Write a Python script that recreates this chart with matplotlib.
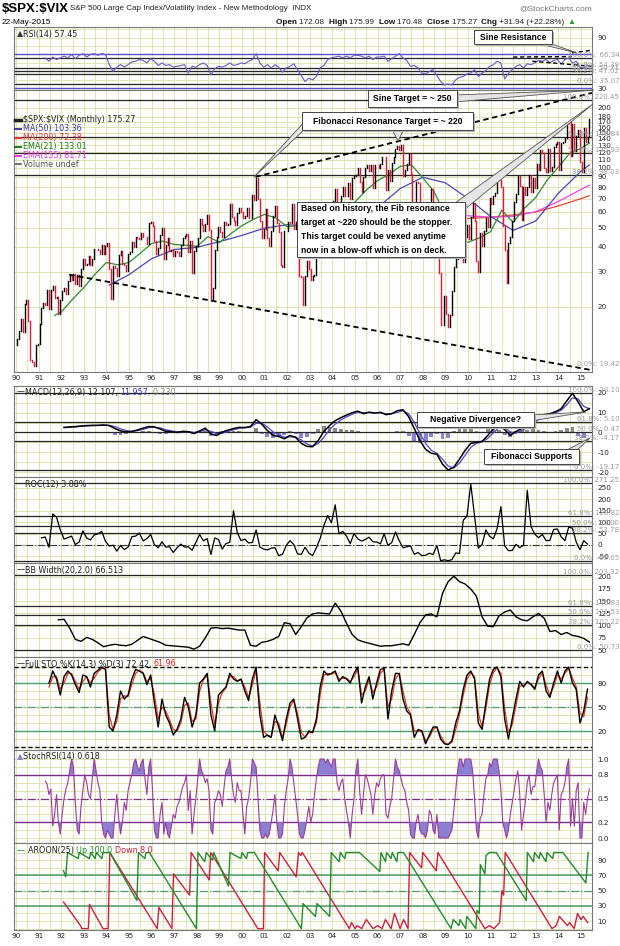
import matplotlib
matplotlib.use("Agg")
import matplotlib.pyplot as plt
from matplotlib.patches import Polygon, Rectangle
from matplotlib.ticker import FixedLocator, FixedFormatter, NullLocator
import numpy as np

# ---------------- data ----------------
# monthly $SPX:$VIX closes, Jan 1990 .. May 2015
open_first = 12.8
closes = [
    13.7, 15.1, 17.4, 15.0, 20.6, 21.7, 17.0, 10.8, 10.5, 10.1, 12.9, 13.0,
    16.4, 19.8, 20.8, 20.3, 24.4, 19.5, 24.3, 25.5, 22.2, 22.4, 18.3, 21.6,
    24.1, 25.0, 23.1, 26.8, 28.6, 27.2, 29.2, 25.9, 28.8, 25.4, 30.8, 34.9,
    32.5, 32.8, 36.2, 32.6, 34.6, 39.2, 39.0, 38.7, 36.7, 40.7, 37.0, 40.5,
    41.9, 31.1, 21.8, 32.2, 31.5, 28.6, 36.6, 38.0, 33.0, 32.6, 30.3, 36.7,
    37.6, 42.3, 40.1, 44.8, 44.4, 43.6, 46.8, 45.0, 44.9, 41.6, 52.6, 53.6,
    50.9, 42.7, 36.9, 39.6, 46.1, 49.7, 34.6, 40.8, 44.3, 38.1, 38.8, 36.1,
    38.3, 37.7, 36.0, 41.1, 44.6, 45.4, 46.5, 37.5, 43.0, 29.5, 38.2, 40.4,
    44.5, 55.2, 51.3, 48.3, 52.0, 58.2, 48.7, 21.6, 24.9, 38.6, 44.8, 50.2,
    47.4, 45.0, 53.6, 51.3, 52.1, 65.4, 56.6, 53.9, 51.3, 59.3, 63.1, 59.7,
    56.0, 56.9, 62.5, 55.8, 55.7, 72.8, 69.1, 89.3, 69.8, 53.7, 44.1, 49.1,
    62.1, 44.3, 40.6, 48.0, 57.1, 64.4, 52.7, 47.3, 32.6, 31.6, 47.9, 48.2,
    53.6, 52.7, 65.9, 49.2, 53.6, 39.0, 28.5, 28.1, 20.5, 28.5, 34.0, 30.8,
    27.4, 28.4, 29.0, 43.3, 49.4, 50.0, 50.8, 52.0, 43.9, 65.3, 64.9, 60.8,
    68.1, 78.4, 67.4, 64.4, 72.3, 79.8, 72.0, 72.2, 83.8, 69.3, 88.9, 91.1,
    92.3, 99.5, 84.4, 75.6, 89.6, 99.3, 102.8, 96.8, 103.3, 78.9, 103.2, 103.1,
    99.2, 104.1, 113.6, 113.0, 77.4, 96.9, 85.7, 106.0, 113.2, 124.1, 128.5, 122.2,
    130.7, 91.4, 97.3, 104.4, 117.8, 92.8, 61.9, 63.0, 84.8, 83.7, 64.7, 65.2,
    52.6, 50.2, 51.7, 66.6, 77.8, 53.6, 55.3, 62.0, 29.6, 16.2, 16.2, 22.6,
    18.4, 15.8, 18.1, 23.9, 31.8, 34.8, 38.1, 39.3, 41.3, 33.7, 44.7, 51.4,
    43.7, 56.6, 66.4, 53.7, 33.9, 29.9, 46.9, 40.2, 48.1, 55.8, 50.3, 70.7,
    65.9, 72.1, 74.9, 92.2, 86.8, 80.1, 51.1, 38.6, 26.3, 41.9, 44.9, 53.8,
    67.6, 74.2, 90.8, 81.3, 54.4, 79.6, 73.0, 80.4, 91.8, 75.9, 89.1, 79.2,
    104.8, 97.7, 123.5, 118.4, 100.1, 95.0, 124.9, 96.1, 101.3, 127.3, 131.8, 134.9,
    96.9, 132.8, 134.7, 140.6, 168.8, 169.0, 114.3, 166.9, 121.0, 144.1, 155.5, 107.2,
    95.0, 158.3, 135.2, 143.4, 175.27,
]

# overlays on the price panel (year, value)
ma50_t = [1994.12, 1995, 1996, 1997, 1998, 1999, 2000, 2001, 2002, 2003, 2004, 2005,
          2006, 2007, 2008, 2009, 2010, 2011, 2012, 2013, 2014, 2015, 2015.37]
ma50_v = [25.7, 29.0, 34.9, 38.8, 39.8, 42.5, 45.7, 49.7, 51.7, 50.8, 49.5, 52.0,
          63.0, 78.6, 89.6, 84.0, 70.0, 57.0, 48.4, 54.0, 74.4, 96.0, 103.36]
ma200_t = [2006.62, 2007, 2008, 2009, 2010, 2011, 2012, 2013, 2014, 2015, 2015.37]
ma200_v = [47.5, 49.6, 53.9, 55.4, 55.6, 56.4, 57.9, 59.9, 64.3, 69.9, 72.38]
ema155_t = [2002.87, 2004, 2005, 2006, 2007, 2008, 2009, 2010, 2011, 2012, 2013, 2014, 2015, 2015.37]
ema155_v = [39.3, 40.4, 45.2, 52.1, 60.0, 64.0, 61.5, 57.4, 56.4, 57.0, 60.1, 67.7, 77.7, 81.71]
ema21_v = [18.1, 18.8, 21.8, 25.0, 29.2, 33.4, 32.5, 33.4, 37.2, 41.6, 42.8, 41.1, 40.8,
           40.2, 45.1, 42.1, 46.6, 51.2, 55.0, 58.3, 55.9, 50.5, 51.3, 41.3, 39.8, 47.0,
           57.8, 67.3, 77.2, 86.2, 92.5, 101.6, 103.4, 89.1, 75.9, 57.6, 42.9, 42.2, 44.4,
           47.7, 61.2, 53.2, 62.6, 70.9, 86.5, 100.8, 118.1, 125.3, 133.01]
ema21_t = [1991.7] + [1992 + 0.5 * k for k in range(47)] + [2015.37]

# RSI(14), every 2nd month from Apr 1991
rsi_m0 = 15
rsi = [66, 62, 67, 64, 66,
       68, 66, 70, 65, 69, 71,  67, 70, 71, 69, 71, 70,  58, 50, 55, 58, 55, 58,
       61, 62, 64, 63, 60, 65,  62, 57, 60, 57, 58, 55,  56, 57, 58, 48, 56, 55,
       58, 60, 57, 46, 53, 56,  55, 57, 60, 57, 58, 60,  59, 62, 64, 71, 60, 55,
       58, 54, 58, 55, 49, 54,  56, 59, 52, 45, 38, 42,  40, 44, 54, 57, 64, 66,
       67, 68, 66, 68, 66, 69,  69, 68, 66, 68, 64, 67,  67, 68, 62, 65, 68, 71,
       66, 63, 56, 57, 54, 48,  47, 50, 52, 45, 38, 34,  35, 34, 40, 43, 44, 47,
       48, 52, 44, 48, 51, 56,  58, 62, 60, 41, 48, 52,  56, 58, 54, 59, 58, 60,
       63, 62, 64, 60, 63, 64,  59, 64, 66, 60, 62, 55,  54, 57.45]

# MACD(12,26,9), every 3rd month from Feb 1992
macd_m0 = 25
macd = [2.6, 2.8, 3.0, 3.3, 3.5, 3.6, 3.6, 3.8, 3.5, 2.0, 0.8, 0.3, 0.5, 1.3, 2.2, 3.0,
        2.8, 1.8, 0.6, 0.4, 0.0, 0.6, 0.4, -0.5, 0.8, 2.2, -0.8, -1.5, 0.2, 1.2, 2.0, 2.6,
        2.5, 3.0, 6.5, 4.2, 1.0, -1.5, -2.0, -3.2, -1.5, -2.5, -5.5, -7.0, -7.2, -4.0, 0.5, 3.5,
        6.0, 7.5, 8.8, 10.0, 10.8, 9.5, 10.3, 9.8, 10.2, 9.0, 9.5, 11.0, 11.5, 8.0, 2.0, -4.0,
        -8.5, -10.5, -11.0, -16.0, -19.0, -17.5, -13.5, -9.0, -5.5, -5.0, -4.5, -1.5,
        1.8, 3.5, 1.5, -1.5, 0.5, 2.0, 3.5, 6.0, 7.5, 9.0, 9.5, 10.5, 12.0, 16.0, 19.8, 15.5,
        10.5, 12.107]
macd_signal = [2.4, 2.6, 2.8, 3.1, 3.3, 3.5, 3.6, 3.7, 3.6, 3.0, 1.8, 1.0, 0.6, 0.9, 1.6, 2.4,
               2.7, 2.3, 1.4, 0.8, 0.4, 0.4, 0.4, 0.0, 0.3, 1.4, 0.6, -0.6, -0.4, 0.5, 1.4, 2.1,
               2.4, 2.7, 4.6, 4.8, 2.8, 0.3, -1.2, -2.4, -2.2, -2.3, -3.8, -5.8, -6.8, -5.6, -2.4, 1.4,
               4.2, 6.4, 7.9, 9.2, 10.2, 10.0, 10.0, 9.9, 10.0, 9.5, 9.4, 10.2, 11.0, 9.5, 5.0, -0.5,
               -5.5, -9.0, -10.5, -13.5, -17.0, -18.0, -15.5, -11.5, -7.5, -5.5, -4.8, -3.0,
               -0.2, 2.4, 2.4, 0.3, -0.3, 1.0, 2.6, 4.6, 6.5, 8.2, 9.2, 10.0, 11.2, 14.0, 17.5, 17.0,
               13.2, 11.957]
macd_hist = [0.3, 0.3, 0.3, 0.3, 0.3, 0.2, 0.1, 0.2, -0.2, -1.2, -1.2, -0.8, -0.1, 0.5, 0.7, 0.7,
             0.1, -0.6, -0.9, -0.5, -0.5, 0.3, 0.1, -0.6, 0.6, 1.0, -1.6, -1.1, 0.7, 0.8, 0.7, 0.6,
             0.2, 0.4, 2.2, -0.8, -2.2, -3.0, -1.8, -1.5, 0.7, -0.8, -2.8, -2.2, -0.6, 2.0, 3.2, 2.6,
             2.2, 1.6, 1.3, 1.2, 1.0, -0.4, 0.5, 0.2, 0.4, -0.4, 0.3, 1.0, 0.7, -2.0, -4.5, -5.5,
             -4.5, -2.5, -1.0, -3.5, -3.0, 0.8, 2.5, 3.0, 2.5, 0.8, 0.5, 1.8,
             2.4, 1.3, -1.2, -2.2, 1.0, 1.2, 1.1, 1.6, 1.3, 1.0, 0.5, 0.8, 1.2, 2.4, 2.8, -2.0,
             -3.0, 0.23]

# ROC(12) %, every 2nd month from Feb 1991
roc_m0 = 13
roc = [31, 35, -10, 136, 122, 66,  26, 32, 39, 2, 13, 62,  31, 22, 44, 49, 60, 16,
       -5, -1, -27, -2, -20, -9,  36, 39, 52, 18, 28, 46,  1, -12, 14, -9, -8, -33,
       -12, 4, -9, -8, -23, 12,  46, 18, 28, -42, 31, 24,  -18, 6, 12, 150, 54, 19,
       26, 9, 11, 66, -9, -18,  -22, -14, -12, -47, -41, -2,  19, 2, -39, -41, -10, -36,
       -46, -12, 28, 85, 129, 97,  176, 49, 60, 39, 6, 50,  27, 17, 24, 34, 14, 13,
       5, 49, -2, 10, 57, 19,  -12, -8, -4, -41, -33, -47,  -45, -36, -42, -2, -69, -65,
       -69, -64, -35, -37, 108, 127,  268, 125, -14, 2, 66, 38,  27, 72, 168, -4, -25, -24,
       3, -12, -1, 240, 81, 47,  32, 46, 19, 20, 68, 70,  36, 19, 78, 74, 13, -21,  19, 3.88]

# BB Width(20,2), every 3rd month from Nov 1991
bb_m0 = 22
bbw = [112, 113, 95, 72, 68, 76, 72, 65, 57, 60, 62, 60, 59, 62, 70, 78, 74, 70, 66, 60, 59,
       58, 57, 56, 52, 58, 75, 95, 96, 94, 95, 93, 91, 91, 60, 58, 66, 68, 72, 78, 106,
       104, 82, 98, 116, 124, 126, 125, 124, 146, 130, 105, 82, 71, 67, 64, 61, 58, 59, 59, 61,
       63, 60, 82, 106, 122, 124, 118, 166, 190, 201, 190, 185, 175, 160, 118, 99,
       98, 120, 128, 132, 118, 112, 110, 118, 125, 115, 88, 90, 82, 86, 80, 78, 74, 66.513]

# Full STO %K(14,3) and %D(3), every 2nd month from Jun 1991
sto_m0 = 17
sto_k = [80, 95, 85, 65,
         88, 95, 90, 78, 68, 90,  88, 75, 92, 96, 100, 97,  25, 20, 40, 70, 60, 65,
         85, 97, 95, 92, 78, 90,  55, 25, 60, 40, 30, 15,  22, 35, 62, 50, 25, 40,
         80, 85, 92, 40, 20, 65,  70, 75, 92, 85, 82, 85,  70, 58, 85, 100, 40, 12,
         15, 12, 40, 25, 8, 35,  55, 60, 35, 10, 12, 20,  18, 35, 75, 95, 90, 92,
         95, 82, 88, 85, 80, 92,  100, 55, 75, 88, 60, 80,  97, 98, 35, 70, 92, 92,
         60, 45, 40, 12, 22, 20,  4, 15, 25, 25, 10, 4,  3, 8, 30, 45, 72, 90,
         95, 85, 30, 22, 55, 85,  97, 100, 88, 35, 10, 35,  60, 82, 75, 82, 78, 72,
         90, 95, 70, 62, 80, 95,  80, 95, 100, 80, 72, 30,  45, 72.42]
sto_d = [75, 88, 88, 72,
         80, 92, 92, 82, 72, 82,  88, 80, 86, 94, 98, 98,  40, 22, 32, 60, 64, 63,
         78, 92, 96, 93, 82, 86,  65, 35, 50, 45, 34, 22,  20, 30, 52, 55, 32, 35,
         70, 84, 90, 55, 28, 55,  68, 74, 88, 88, 83, 84,  75, 62, 78, 95, 55, 20,
         14, 13, 32, 30, 12, 28,  50, 58, 42, 18, 12, 18,  18, 30, 65, 90, 92, 91,
         93, 85, 86, 86, 82, 88,  97, 65, 70, 85, 68, 75,  92, 97, 50, 60, 85, 92,
         70, 50, 42, 20, 20, 20,  8, 12, 22, 25, 14, 6,  3, 6, 22, 40, 65, 85,
         93, 88, 42, 25, 48, 78,  93, 99, 92, 48, 18, 28,  52, 76, 77, 80, 79, 74,
         85, 93, 77, 65, 75, 90,  85, 92, 98, 86, 75, 42,  38, 61.96]

# StochRSI(14), monthly from Apr 1991
srsi_m0 = 15
srsi = [.72, .68, .55, .62, .15, .3, .55, .2, .05,
        .3, .5, .62, .7, .85, 1.0, .9, .45, .1, .05, .4, .6,
        .8, .7, .55, .5, .75, 1.0, .85, .7, .6, .2, .05, 0,
        .1, .05, 0, 0, .3, .55, .25, .05, .2, .45, .35, .6,
        .7, .8, .95, 1.0, .9, .85, .95, 1.0, .75, .55, .9, 1.0,
        .6, .1, 0, 0, .3, .45, .05, .2, .05, 0, .15, .3,
        .25, .4, .45, .55, .65, .7, .8, .35, .6, .05, .3, .5,
        .75, 1.0, .85, .8, .7, .75, .6, .1, .05, .45, .5, .6,
        .55, .4, .65, .85, .9, 1.0, .75, .55, .45, .7, .6, .6,
        .3, .05, .4, .5, .7, 1.0, .95, .9, .5, .1, 0, 0,
        .05, 0, .05, .2, .35, .55, .2, 0, 0, .05, .4, .6,
        .75, 1.0, .9, .7, .5, .3, .05, 0, 0, .1, .25, .4,
        .2, .3, .55, .75, .9, 1.0, 1.0, 1.0, .95, 1.0, .95, .9,
        1.0, 1.0, .7, .6, .7, .75, .5, .35, .2, 0, .3, .5,
        .85, 1.0, .6, .3, .55, .8, .75, .65, .55, .3, .55, .7,
        .65, .75, .8, .8, .3, .25, .4, .5, .75, 1.0, .9, .85,
        .75, .65, .6, .45, .35, .05, 0, 0, .2, .3, .1, .05,
        .05, 0, .1, .35, .3, .1, .05, .3, 0, 0, 0, 0,
        0, 0, .05, .1, .35, .6, .85, 1.0, 1.0, .9, 1.0, 1.0,
        1.0, 1.0, .85, .5, .1, 0, .25, .3, .55, .75, .8, .95,
        .9, 1.0, 1.0, 1.0, .85, .6, .2, .1, 0, .1, .3, .45,
        .6, .75, .85, .55, .1, .3, .45, .7, .8, .55, .65, .65,
        .85, 1.0, .9, .85, .55, .2, .45, .35, .55, .7, .75, .8,
        .1, .55, .6, .7, .9, 1.0, .15, .5, .15, .6, .7, 0,
        0, .45, .3, .5, .618]

# AROON(25) turning points (year, value)
aroon_up_t = [1992.1, 1992.2, 1992.28, 1992.75, 1992.8, 1993.25, 1993.3, 1993.5, 1993.55, 1993.8,
              1993.85, 1994.15, 1995.35, 1995.42, 1995.7, 1995.75, 1995.9, 1997.98, 1998.05, 1998.35,
              1998.42, 1998.7, 1998.75, 1999.4, 1999.47, 1999.95, 2000.0, 2000.2, 2000.25, 2000.55,
              2002.63, 2002.7, 2003.25, 2003.32, 2003.88, 2003.95, 2004.3, 2004.35, 2004.55, 2004.6,
              2005.2, 2006.1, 2006.15, 2006.35, 2006.4, 2006.6, 2006.65, 2006.85, 2006.9, 2007.15,
              2009.25, 2009.35, 2009.6, 2009.65, 2009.9, 2009.95, 2010.35, 2010.4, 2010.5, 2010.55,
              2010.75, 2010.8, 2010.95, 2011.25, 2012.58, 2012.63, 2012.9, 2012.95, 2013.15, 2013.2,
              2013.45, 2013.5, 2013.75, 2013.8, 2014.2, 2015.22, 2015.32]
aroon_up_v = [76, 68, 100, 92, 100, 92, 100, 92, 100, 92,
              100, 100, 37, 100, 92, 100, 100, 0, 100, 88,
              100, 90, 100, 56, 100, 92, 100, 92, 100, 100,
              0, 33, 16, 33, 16, 100, 88, 100, 92, 100,
              100, 75, 100, 88, 100, 92, 100, 88, 100, 100,
              0, 12, 4, 12, 0, 16, 0, 24, 20, 84,
              72, 96, 100, 100, 37, 100, 88, 100, 92, 100,
              88, 100, 92, 100, 100, 60, 100]
aroon_dn_t = [1992.1, 1992.85, 1992.92, 1993.2, 1993.25, 1993.85, 1994.08, 1994.15, 1996.25, 1996.32,
              1996.9, 1996.97, 1997.68, 1997.75, 1998.55, 1998.62, 2000.7, 2000.95, 2001.0, 2001.6,
              2001.67, 2002.4, 2002.5, 2002.6, 2002.67, 2004.75, 2004.85, 2005.0, 2005.1, 2005.3,
              2005.5, 2005.8, 2006.0, 2006.2, 2006.35, 2006.6, 2006.75, 2007.0, 2007.15, 2007.35,
              2007.42, 2007.95, 2008.0, 2008.6, 2008.67, 2010.75, 2010.95, 2011.15, 2011.4, 2011.5,
              2011.58, 2011.65, 2013.72, 2013.9, 2014.05, 2014.4, 2014.5, 2014.7, 2014.85, 2015.0,
              2015.1, 2015.3]
aroon_dn_v = [35, 4, 0, 0, 32, 0, 0, 100, 0, 28,
              0, 72, 44, 100, 64, 100, 0, 0, 100, 76,
              100, 68, 100, 96, 100, 0, 8, 0, 4, 0,
              12, 0, 4, 0, 12, 0, 20, 0, 12, 0,
              100, 80, 100, 76, 100, 0, 4, 0, 8, 50,
              44, 100, 0, 4, 16, 4, 8, 0, 20, 12,
              16, 8]

# Fibonacci levels drawn on each panel
rsi_fib = [66.34, 54.39, 50.71, 47.02, 35.07]
rsi_fib_lab = ["100.0%: 66.34", "61.8%: 54.39", "50.0%: 50.71", "38.2%: 47.02", "0.0%: 35.07"]
main_fib = [219.0, 142.0, 118.0, 92.0]
main_fib_lab = ["100.0%: 220.45", "61.8%: 148.84", "50.0%: 125.93", "38.2%: 98.03"]
macd_fib = [20.10, 5.10, 0.47, -4.17, -19.17]
macd_fib_lab = ["100.0%: 20.10", "61.8%: 5.10", "50.0%: 0.47", "38.2%: -4.17", "0.0%: -19.17"]
roc_fib = [271.25, 128.82, 85.30, 53.78, -69.65]
roc_fib_lab = ["100.0%: 271.25", "61.8%: 128.82", "50.0%: 85.30", "38.2%: 53.78", "0.0%: -69.65"]
bb_fib = [203.32, 140.83, 121.53, 102.22, 50.73]
bb_fib_lab = ["100.0%: 203.32", "61.8%: 140.83", "50.0%: 121.53", "38.2%: 102.22", "0.0%: 50.73"]

main_ticks = [20, 30, 40, 50, 60, 70, 80, 90, 100, 110, 120, 130, 140, 150, 160, 170, 180, 200]

# ---------------- layout ----------------
W, H = 620, 946
X0, X1 = 14, 592
XMIN, XMAX = 1989.91, 2015.49
GRID = '#dde4b0'
FIBC = '#9c9c9c'

fig = plt.figure(figsize=(W / 100, H / 100), dpi=100)
fig.patch.set_facecolor('white')
R = fig.canvas.get_renderer()


def fx(px):
    return px / W


def fy(py):
    return 1 - py / H


def monthly(m0, n, step):
    return np.array([1990 + (m0 + step * i + 0.5) / 12 for i in range(n)])


def panel(top, bot):
    return fig.add_axes([fx(X0), fy(bot), fx(X1) - fx(X0), (bot - top) / H])


def style(ax, ylim, ticks, labels, hgrid, log=False, xlab=False):
    if log:
        ax.set_yscale('log')
    ax.set_xlim(XMIN, XMAX)
    ax.set_ylim(*ylim)
    for g in np.arange(1990, 2015.6, 0.5):
        ax.axvline(g, color=GRID, lw=0.7, zorder=0)
    for g in hgrid:
        ax.axhline(g, color=GRID, lw=0.7, zorder=0)
    ax.yaxis.tick_right()
    ax.yaxis.set_major_locator(FixedLocator(ticks))
    ax.yaxis.set_major_formatter(FixedFormatter(labels))
    ax.yaxis.set_minor_locator(NullLocator())
    ax.tick_params(axis='y', length=0, pad=4, labelsize=5.2, colors='#222222')
    ax.set_xticks(range(1990, 2016))
    ax.set_xticklabels(['%02d' % (y % 100) for y in range(1990, 2016)] if xlab else [])
    ax.xaxis.set_minor_locator(NullLocator())
    ax.tick_params(axis='x', length=0, pad=2.5, labelsize=5.2, colors='#222222')
    for s in ax.spines.values():
        s.set_color('#777777')
        s.set_linewidth(0.8)


def fib(ax, vals, labs):
    tr = ax.get_yaxis_transform()
    for v, lab in zip(vals, labs):
        ax.axhline(v, color='#262626', lw=0.9, zorder=2)
        ax.text(1.047, v, lab, transform=tr, ha='right', va='bottom', fontsize=5.0,
                color=FIBC, clip_on=False, zorder=6)


def ctext(x, y, parts, size=5.8, family='DejaVu Sans'):
    cx = x
    for s, col, wt in parts:
        t = fig.text(fx(cx), fy(y), s, color=col, fontsize=size, fontweight=wt,
                     family=family, ha='left', va='center')
        cx += t.get_window_extent(renderer=R).width


def callout(box, lines, pointers, size=6.2, center=True):
    x0, y0, x1, y1 = box
    for a, b, tip in pointers:
        fig.add_artist(Polygon([(fx(a[0]), fy(a[1])), (fx(b[0]), fy(b[1])), (fx(tip[0]), fy(tip[1]))],
                               closed=True, transform=fig.transFigure, facecolor='#e4e4e4',
                               edgecolor='#555555', lw=0.6, zorder=6))
    fig.add_artist(Rectangle((fx(x0 + 2), fy(y1 + 2)), fx(x1) - fx(x0), (y1 - y0) / H,
                             transform=fig.transFigure, facecolor='#b5b5b5', edgecolor='none', zorder=7))
    fig.add_artist(Rectangle((fx(x0), fy(y1)), fx(x1) - fx(x0), (y1 - y0) / H,
                             transform=fig.transFigure, facecolor='white', edgecolor='#444444',
                             lw=0.7, zorder=8))
    step = (y1 - y0) / len(lines)
    for k, line in enumerate(lines):
        yy = y0 + step * (k + 0.5)
        if center:
            fig.text(fx((x0 + x1) / 2), fy(yy), line, ha='center', va='center', fontsize=size,
                     fontweight='bold', family='Liberation Sans', zorder=9)
        else:
            fig.text(fx(x0 + 4), fy(yy), line, ha='left', va='center', fontsize=size,
                     fontweight='bold', family='Liberation Sans', zorder=9)


DASH = (0, (3, 2))

# ---------------- RSI ----------------
ax = panel(27, 90)
style(ax, (28, 102.5), [90, 30], ['90', '30'], range(30, 101, 10))
ax.axhline(70, color='#5a4fc8', lw=1.0, zorder=2)
ax.axhline(30, color='#5a4fc8', lw=1.0, zorder=2)
ax.axhline(50, color='#333333', lw=0.8, ls='-.', zorder=2)
fib(ax, rsi_fib, rsi_fib_lab)
ax.plot(monthly(rsi_m0, len(rsi), 2), rsi, color='#6a5acd', lw=0.8, zorder=4)
ax.plot([2012.0, 2014.6], [67, 67.5], color='black', ls=DASH, lw=1.0, zorder=5)
ax.plot([2012.85, 2015.49], [62, 56], color='black', ls=DASH, lw=1.0, zorder=5)
ax.plot([2014.6, 2015.49], [72, 75], color='black', ls=DASH, lw=1.0, zorder=5)
ctext(17, 34, [("\u25b2", '#333333', 'normal'), ("RSI(14) 57.45", '#222222', 'normal')])

# ---------------- price ----------------
ax = panel(90, 372)
style(ax, (9.4, 246), main_ticks, [str(t) for t in main_ticks], main_ticks, log=True, xlab=True)
fib(ax, main_fib, main_fib_lab)
ax.text(1.047, 10.0, "0.0%: 19.42", transform=ax.get_yaxis_transform(), ha='right', va='bottom',
        fontsize=5.0, color=FIBC, clip_on=False, zorder=6)
ax.plot(ma200_t, ma200_v, color='#ee4433', lw=0.9, zorder=3)
ax.plot(ema155_t, ema155_v, color='#ee44ee', lw=0.9, zorder=3)
ax.plot(ma50_t, ma50_v, color='#4b46b4', lw=0.9, zorder=3)
ax.plot(ema21_t, ema21_v, color='#2e8b2e', lw=0.9, zorder=3)
c = np.array(closes)
o = np.array([open_first] + closes[:-1])
mx = monthly(0, len(closes), 1)
up = c >= o
lo = np.minimum(o, c)
hi = np.maximum(o, c)
for mask, col in ((up, 'black'), (~up, '#e3173e')):
    lc = ax.vlines(mx[mask], lo[mask], hi[mask], color=col, lw=1.0, zorder=4)
    lc.set_capstyle('projecting')
ax.plot([2000.6, 2015.49], [90, 238], color='black', ls=DASH, lw=1.3, zorder=5)
ax.plot([1992.35, 2015.49], [29, 9.6], color='black', ls=DASH, lw=1.3, zorder=5)

legend = [(r"\$SPX:\$VIX (Monthly) 175.27", '#222222', '#222222'),
          ("MA(50) 103.36", '#3b36b0', '#3b36b0'),
          ("MA(200) 72.38", '#ee3333', '#ee3333'),
          ("EMA(21) 133.01", '#1f7a1f', '#1f7a1f'),
          ("EMA(155) 81.71", '#ee33ee', '#ee33ee'),
          ("Volume undef", '#555555', '#777777')]
for k, (txt, tc, ic) in enumerate(legend):
    yy = 120 + k * 8.9
    fig.add_artist(plt.Line2D([fx(15), fx(21)], [fy(yy), fy(yy)], transform=fig.transFigure,
                              color=ic, lw=1.4 if k else 2.5, zorder=5))
    fig.text(fx(23), fy(yy), txt, color=tc, fontsize=5.8, ha='left', va='center', zorder=5)

# ---------------- MACD ----------------
ax = panel(386, 477)
style(ax, (-22.5, 23.5), [20, 10, 0, -10, -20], ['20', '10', '0', '-10', '-20'], range(-20, 21, 5))
mxx = monthly(macd_m0, len(macd), 3)
hc = ['#8a8a8a' if h >= 0 else '#8c84d0' for h in macd_hist]
ax.bar(mxx, macd_hist, width=0.17, color=hc, zorder=2)
fib(ax, macd_fib, macd_fib_lab)
ax.plot(mxx, macd_signal, color='#4b46c8', lw=0.9, zorder=4)
ax.plot(mxx, macd, color='black', lw=1.1, zorder=5)
ctext(17, 392, [("\u2014", '#222222', 'normal'), ("MACD(12,26,9) 12.107, ", '#222222', 'normal'),
                ("11.957", '#3b36c0', 'normal'), (", 0.230", '#888888', 'normal')])

# ---------------- ROC ----------------
ax = panel(477, 563)
style(ax, (-79, 298), [250, 200, 150, 100, 50, 0, -50],
      ['250', '200', '150', '100', '50', '0', '-50'], range(-50, 251, 50))
fib(ax, roc_fib, roc_fib_lab)
ax.axhline(0, color='#333333', lw=0.8, ls='-.', zorder=2)
ax.plot(monthly(roc_m0, len(roc), 2), roc, color='black', lw=0.9, zorder=4)
ctext(17, 484, [("\u2014", '#222222', 'normal'), ("ROC(12) 3.88%", '#222222', 'normal')])

# ---------------- BB width ----------------
ax = panel(563, 657)
style(ax, (36, 228), [200, 175, 150, 125, 100, 75, 50],
      ['200', '175', '150', '125', '100', '75', '50'], range(50, 201, 25))
fib(ax, bb_fib, bb_fib_lab)
ax.plot(monthly(bb_m0, len(bbw), 3), bbw, color='black', lw=1.0, zorder=4)
ctext(17, 570, [("\u2014", '#222222', 'normal'), ("BB Width(20,2.0) 66.513", '#222222', 'normal')])

# ---------------- Full STO ----------------
ax = panel(657, 750)
style(ax, (-3.75, 112.5), [80, 50, 20], ['80', '50', '20'], range(0, 101, 10))
ax.axhline(100, color='black', lw=1.0, ls=DASH, zorder=2)
ax.axhline(0, color='black', lw=1.0, ls=DASH, zorder=2)
ax.axhline(80, color='#4d9a68', lw=1.0, zorder=2)
ax.axhline(20, color='#4d9a68', lw=1.0, zorder=2)
ax.axhline(50, color='#4d9a68', lw=0.9, ls='-.', zorder=2)
sx = monthly(sto_m0, len(sto_k), 2)
ax.plot(sx, sto_d, color='#ee3322', lw=0.9, zorder=4)
ax.plot(sx, sto_k, color='black', lw=1.0, zorder=5)
ctext(17, 664, [("\u2014", '#222222', 'normal'), ("Full STO %K(14,3) %D(3) 72.42, ", '#222222', 'normal'),
                ("61.96", '#ee2222', 'normal')])

# ---------------- StochRSI ----------------
ax = panel(750, 843)
style(ax, (-0.063, 1.114), [1.0, 0.8, 0.5, 0.2, 0.0], ['1.0', '0.8', '0.5', '0.2', '0.0'],
      np.arange(0, 1.01, 0.1))
ax.axhline(0.8, color='#7b2d8b', lw=1.0, zorder=2)
ax.axhline(0.2, color='#7b2d8b', lw=1.0, zorder=2)
ax.axhline(0.5, color='#7b2d8b', lw=0.9, ls='-.', zorder=2)
srx = monthly(srsi_m0, len(srsi), 1)
sv = np.array(srsi)
ax.fill_between(srx, 0.8, sv, where=sv > 0.8, interpolate=True, color='#8a7fd0', lw=0, zorder=3)
ax.fill_between(srx, 0.2, sv, where=sv < 0.2, interpolate=True, color='#8a7fd0', lw=0, zorder=3)
ax.plot(srx, sv, color='#9b3c9b', lw=0.8, zorder=4)
ctext(17, 757, [("\u25b2", '#8a7fd0', 'normal'), ("StochRSI(14) 0.618", '#222222', 'normal')])

# ---------------- AROON ----------------
ax = panel(843, 930)
style(ax, (-1.8, 112.5), [90, 70, 50, 30, 10], ['90', '70', '50', '30', '10'], range(0, 101, 10), xlab=True)
ax.axhline(70, color='#4d9a68', lw=1.1, zorder=2)
ax.axhline(30, color='#4d9a68', lw=1.1, zorder=2)
ax.axhline(50, color='#4d9a68', lw=0.9, ls='-.', zorder=2)
ax.plot(aroon_dn_t, aroon_dn_v, color='#cc2040', lw=1.0, zorder=4)
ax.plot(aroon_up_t, aroon_up_v, color='#238a2e', lw=1.0, zorder=5)
ctext(17, 850, [("\u2014 ", '#238a2e', 'normal'), ("AROON(25) ", '#222222', 'normal'),
                ("Up 100.0 ", '#238a2e', 'normal'), ("Down 8.0", '#cc2040', 'normal')])

# ---------------- header ----------------
fig.text(fx(2), fy(9), r"\$SPX:\$VIX", fontsize=9.5, fontweight='bold', family='Liberation Sans',
         ha='left', va='center')
fig.text(fx(70), fy(9), "S&P 500 Large Cap Index/Volatility Index - New Methodology  INDX",
         fontsize=5.8, family='Liberation Sans', ha='left', va='center', color='#222222')
fig.text(fx(592), fy(9), "@StockCharts.com", fontsize=6.0, family='Liberation Sans',
         ha='right', va='center', color='#777777')
fig.text(fx(2), fy(22), "22-May-2015", fontsize=6.0, family='Liberation Sans', ha='left', va='center')
ctext(276, 22, [("Open ", '#111111', 'bold'), ("172.08  ", '#222222', 'normal'),
                ("High ", '#111111', 'bold'), ("175.99  ", '#222222', 'normal'),
                ("Low ", '#111111', 'bold'), ("170.48  ", '#222222', 'normal'),
                ("Close ", '#111111', 'bold'), ("175.27  ", '#222222', 'normal'),
                ("Chg ", '#111111', 'bold'), ("+31.94 (+22.28%) ", '#222222', 'normal'),
                ("\u25b2", '#2a9a3a', 'normal')], size=5.9, family='Liberation Sans')

# ---------------- callouts ----------------
callout((474, 30, 552, 44), ["Sine Resistance"], [((536, 43), (549, 43), (577, 53))])
callout((368, 90, 457, 107), ["Sine Target = ~ 250"], [((454, 95), (454, 102), (594, 90))])
callout((302, 112, 473, 130), ["Fibonacci Resonance Target = ~ 220"],
        [((306, 120), (306, 128), (254, 177)), ((392, 129), (404, 129), (398, 141))])
callout((297, 202, 465, 257), ["Based on history, the Fib resonance",
                               "target at ~220 should be the stopper.",
                               "This target could be vexed anytime",
                               "now in a blow-off which is on deck."],
        [((455, 203), (464, 210), (593, 104))], center=False)
callout((417, 412, 534, 427), ["Negative Divergence?"], [((531, 415), (531, 421), (586, 412))])
callout((484, 449, 579, 464), ["Fibonacci Supports"], [((567, 450), (577, 450), (590, 438))])

fig.savefig("out.png", dpi=100, facecolor='white')
